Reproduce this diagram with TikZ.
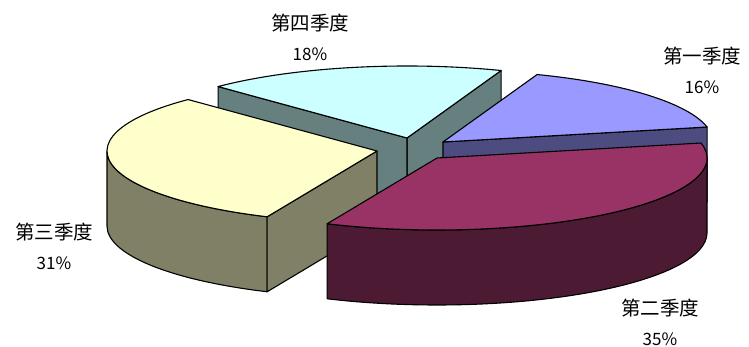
\documentclass[tikz,border=0pt]{standalone}
\usepackage{fontspec}
\newfontfamily\cjk{Noto Sans CJK SC}
\usetikzlibrary{calc, positioning}
\definecolor{qonetop}{HTML}{9999FF}
\definecolor{qoneside}{HTML}{4C4C80}
\definecolor{qtwotop}{HTML}{993366}
\definecolor{qtwoside}{HTML}{4D1A33}
\definecolor{qthreetop}{HTML}{FFFFCC}
\definecolor{qthreeside}{HTML}{808066}
\definecolor{qfourtop}{HTML}{CCFFFF}
\definecolor{qfourside}{HTML}{668080}
\tikzset{
	every node/.style={
		font=\cjk
	},
	face/.style={
		draw=black,
		line width=1.1pt,
		line join=round
	},
	quarter/.style={
		inner sep=0pt,
		font=\cjk\fontsize{19.5}{22}\selectfont
	},
	share/.style={
		inner sep=0pt,
		font=\cjk\fontsize{17}{18}\selectfont
	},
	ell/.style={
		x radius=270,
		y radius=72
	}
}

\begin{document}
\begin{tikzpicture}[x=1pt,y=1pt]
	\useasboundingbox (0,0) rectangle (749,347);
	
	\coordinate (q1) at (443,205);
	\coordinate (q2) at (437,189);
	\coordinate (q3) at (377,196);
	\coordinate (q4) at (407,209);
	
	% fourth quarter
	\path[face,fill=qfourside] (q4) -- ($(q4)+(69.6:270 and 72)$) -- ++(0,-75) -- ($(q4)+(0,-75)$) -- cycle;
	\path[face,fill=qfourside] (q4) -- ($(q4)+(134.4:270 and 72)$) -- ++(0,-75) -- ($(q4)+(0,-75)$) -- cycle;
	\path[face,fill=qfourtop] (q4) -- ($(q4)+(69.6:270 and 72)$) arc[start angle=69.6, end angle=134.4, ell] -- cycle;
	
	% first quarter
	\path[face,fill=qoneside] (q1) -- ($(q1)+(12:270 and 72)$) -- ++(0,-75) -- ($(q1)+(0,-75)$) -- cycle;
	\path[face,fill=qonetop] (q1) -- ($(q1)+(69.6:270 and 72)$) arc[start angle=69.6, end angle=12, ell] -- cycle;
	
	% third quarter
	\path[face,fill=qthreeside] ($(q3)+(180:270 and 72)$) arc[start angle=180, end angle=246, ell] -- ++(0,-75) arc[start angle=246, end angle=180, ell] -- cycle;
	\path[face,fill=qthreeside] (q3) -- ($(q3)+(246:270 and 72)$) -- ++(0,-75) -- ($(q3)+(0,-75)$) -- cycle;
	\path[face,fill=qthreetop] (q3) -- ($(q3)+(134.4:270 and 72)$) arc[start angle=134.4, end angle=246, ell] -- cycle;
	
	% second quarter
	\path[face,fill=qtwoside] ($(q2)+(0:270 and 72)$) arc[start angle=0, end angle=-114, ell] -- ++(0,-75) arc[start angle=-114, end angle=0, ell] -- cycle;
	\path[face,fill=qtwotop] (q2) -- ($(q2)+(12:270 and 72)$) arc[start angle=12, end angle=-114, ell] -- cycle;
	
	% labels
	\node[quarter] (n4) at (310,324) {第四季度};
	\node[share, below=15pt of n4] (p4) {18\%};
	\node[quarter] (n1) at (702,291) {第一季度};
	\node[share, below=15pt of n1] (p1) {16\%};
	\node[quarter] (n3) at (54,115) {第三季度};
	\node[share, below=15pt of n3] (p3) {31\%};
	\node[quarter] (n2) at (660,39) {第二季度};
	\node[share, below=15pt of n2] (p2) {35\%};
	
\end{tikzpicture}
\end{document}
